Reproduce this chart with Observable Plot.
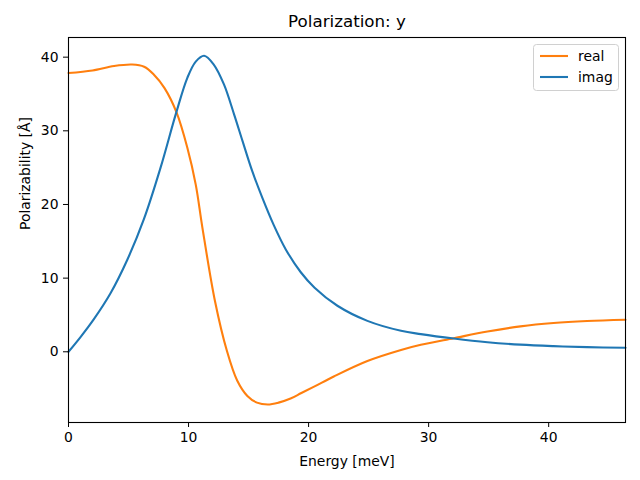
<!DOCTYPE html>
<html>
<head>
<meta charset="utf-8">
<script src="https://cdn.jsdelivr.net/npm/d3@7"></script>
<script src="https://cdn.jsdelivr.net/npm/@observablehq/plot@0.6"></script>
<style>
  body { margin: 0; background: #fff; }
  #chart { width: 640px; height: 480px; }
</style>
</head>
<body>
<div id="chart"></div>
<script>
const titleText = "Polarization: y";
const xLabel = "Energy [meV]";
const yLabel = "Polarizability [Å]";
const seriesNames = ["real", "imag"];
const seriesColors = ["#ff7f0e", "#1f77b4"];
const xTicks = [0, 10, 20, 30, 40];
const yTicks = [0, 10, 20, 30, 40];

const energyReal = [0, 2, 3.8, 5.3, 6.3, 7.1, 8.0, 9.0, 9.9, 10.6, 11.15, 12.2, 13.2, 14.05, 14.9, 15.7, 16.6, 17.5, 18.5, 19.4, 20.5, 22.1, 24.9, 27.7, 29.35, 32.1, 34.9, 37.65, 40.4, 43.2, 46.4];
const realValues = [37.85, 38.2, 38.8, 39.0, 38.7, 37.65, 35.8, 32.5, 27.7, 22.7, 16.9, 6.9, 0.1, -3.9, -6.0, -6.9, -7.15, -6.9, -6.35, -5.6, -4.7, -3.35, -1.25, 0.25, 0.95, 1.85, 2.75, 3.45, 3.9, 4.17, 4.35];

const energyImag = [0, 1, 2.1, 3.5, 4.9, 6.28, 7.67, 8.98, 9.9, 10.6, 11.3, 12.1, 12.95, 13.8, 14.5, 15.3, 16.15, 17.1, 18.1, 19.35, 20.5, 22.4, 24.9, 27.7, 29.35, 32.1, 34.9, 37.65, 40.4, 43.2, 46.4];
const imagValues = [0, 2.0, 4.4, 7.95, 12.5, 18.0, 25.0, 32.5, 37.2, 39.4, 40.2, 39.0, 36.3, 32.2, 28.6, 24.55, 20.9, 17.2, 13.9, 10.8, 8.7, 6.25, 4.2, 2.85, 2.4, 1.8, 1.3, 0.97, 0.77, 0.63, 0.54];

const rows = [
  ...energyReal.map((e, i) => ({energy: e, value: realValues[i], series: seriesNames[0]})),
  ...energyImag.map((e, i) => ({energy: e, value: imagValues[i], series: seriesNames[1]}))
];

const font = "DejaVu Sans, sans-serif";

const plot = Plot.plot({
  width: 640,
  height: 480,
  marginLeft: 68,
  marginRight: 15,
  marginTop: 37,
  marginBottom: 58,
  style: {fontFamily: font, fontSize: "13.9px", color: "#000", background: "#fff"},
  x: {domain: [0, 46.4]},
  y: {domain: [-9.6, 42.67]},
  color: {domain: seriesNames, range: seriesColors},
  marks: [
    Plot.line(rows.filter(d => d.series === seriesNames[0]), {x: "energy", y: "value", stroke: "series", strokeWidth: 2.1, curve: "catmull-rom"}),
    Plot.line(rows.filter(d => d.series === seriesNames[1]), {x: "energy", y: "value", stroke: "series", strokeWidth: 2.1, curve: "catmull-rom"}),
    Plot.frame({stroke: "#000", strokeWidth: 1.1}),
    Plot.axisX({ticks: xTicks, tickSize: 5, tickPadding: 5, label: null, tickFormat: d3.format("d"), fontSize: 13.9}),
    Plot.axisY({ticks: yTicks, tickSize: 5, tickPadding: 5, label: null, tickFormat: d3.format("d"), fontSize: 13.9}),
    Plot.text([titleText], {frameAnchor: "top", dy: -22, fontSize: 16.7, text: d => d}),
    Plot.text([xLabel], {frameAnchor: "bottom", dy: 43, fontSize: 13.9, text: d => d}),
    Plot.text([yLabel], {frameAnchor: "left", dx: -43, rotate: -90, fontSize: 13.9, text: d => d})
  ]
});

document.getElementById("chart").appendChild(plot);

// legend
const svg = d3.select(plot);
const lg = svg.append("g").attr("font-family", font).attr("font-size", "13.9px").attr("text-anchor", "start");
lg.append("rect").attr("x", 533.5).attr("y", 44.5).attr("width", 85).attr("height", 46)
  .attr("rx", 3).attr("fill", "#fff").attr("fill-opacity", 0.8).attr("stroke", "#d0d0d0");
seriesNames.forEach((name, i) => {
  const y = 56 + i * 21;
  lg.append("line").attr("x1", 540).attr("x2", 568).attr("y1", y).attr("y2", y)
    .attr("stroke", seriesColors[i]).attr("stroke-width", 2.1);
  lg.append("text").attr("x", 578).attr("y", y).attr("dy", "0.35em").attr("fill", "#000").text(name);
});
</script>
</body>
</html>
